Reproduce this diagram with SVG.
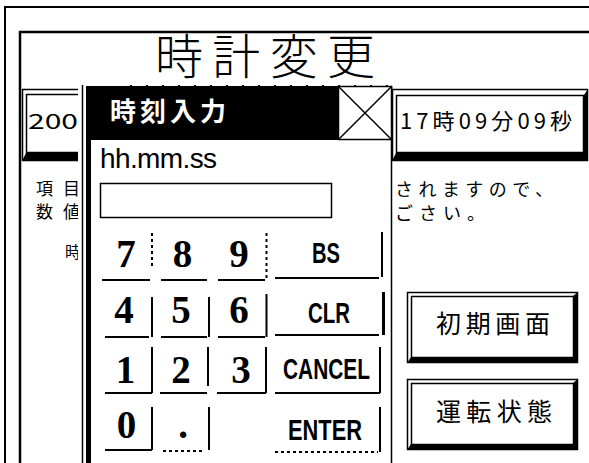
<svg xmlns="http://www.w3.org/2000/svg" width="589" height="463" viewBox="0 0 589 463">
<style>
.jp{font-family:"Noto Sans CJK JP","Noto Sans CJK SC",sans-serif;fill:#000;}
.dg{font-family:"Liberation Serif","Times New Roman",serif;font-weight:bold;font-size:39px;text-anchor:middle;fill:#000;}
.kl{font-family:"Liberation Sans",Arial,sans-serif;font-size:29px;font-weight:bold;fill:#000;}
.kb{stroke:#000;stroke-width:2;fill:none;}
.dsh{stroke-dasharray:3 3;}
.box{fill:none;stroke:#000;stroke-width:1.5;}
.shadow{fill:#000;}
</style>
<rect width="589" height="463" fill="#fff"/>
<g id="frame">
  <path d="M5,463 V7 H589" fill="none" stroke="#000" stroke-width="2"/>
  <path d="M20,463 V32 H589" fill="none" stroke="#000" stroke-width="2.5"/>
</g>
<g id="title">
  <text class="jp" x="155" y="74" font-size="48" font-weight="300" textLength="220" lengthAdjust="spacing">時計変更</text>
</g>
<g id="date-box">
  <rect class="box" x="22.5" y="89.5" width="300" height="71"/>
  <rect class="box" x="26.5" y="94.5" width="292" height="58"/>
  <polygon class="shadow" points="322,89 322,161 22,161 26,153 318,153 318,94"/>
  <text class="jp" x="28" y="129" font-size="21" textLength="50" lengthAdjust="spacingAndGlyphs">200</text>
</g>
<g id="time-box">
  <rect class="box" x="392.5" y="89.5" width="195" height="71"/>
  <rect class="box" x="396.5" y="95.5" width="187" height="57"/>
  <polygon class="shadow" points="588,89 588,161 392,161 396,153 584,153 584,95"/>
  <text class="jp" x="400" y="129" font-size="22" textLength="172" lengthAdjust="spacing">17時09分09秒</text>
</g>
<g id="note">
  <text class="jp" x="36" y="195" font-size="17" textLength="44" lengthAdjust="spacing">項目</text>
  <text class="jp" x="36" y="218" font-size="17" textLength="44" lengthAdjust="spacing">数値</text>
  <text class="jp" x="65" y="258" font-size="16">時</text>
  <text class="jp" x="395" y="196" font-size="18" textLength="158" lengthAdjust="spacing">されますので、</text>
  <text class="jp" x="395" y="220" font-size="18" textLength="90" lengthAdjust="spacing">ごさい。</text>
</g>
<g id="btn-initial">
  <rect class="box" x="407.5" y="292.5" width="170" height="70"/>
  <rect class="box" x="411.5" y="296.5" width="162" height="61"/>
  <polygon class="shadow" points="578,292 578,363 407,363 411,357 573,357 573,296"/>
  <text class="jp" x="436" y="333" font-size="25" textLength="114" lengthAdjust="spacing">初期画面</text>
</g>
<g id="btn-status">
  <rect class="box" x="407.5" y="379.5" width="170" height="70"/>
  <rect class="box" x="411.5" y="383.5" width="162" height="61"/>
  <polygon class="shadow" points="578,379 578,450 407,450 411,444 573,444 573,383"/>
  <text class="jp" x="436" y="421" font-size="25" textLength="116" lengthAdjust="spacing">運転状態</text>
</g>
<g id="dialog">
  <rect x="78" y="86" width="314" height="377" fill="#fff"/>
  <line x1="82.5" y1="85" x2="82.5" y2="463" stroke="#000" stroke-width="1.5"/>
  <rect x="86" y="86" width="5" height="377" fill="#000"/>
  <line x1="391.5" y1="86" x2="391.5" y2="463" stroke="#000" stroke-width="1.5"/>
  <line x1="130" y1="85.5" x2="390" y2="85.5" stroke="#000" stroke-width="1" stroke-dasharray="2 14"/>
  <rect x="86" y="86" width="252" height="54" fill="#000"/>
  <text x="110" y="121" font-size="26" font-weight="bold" fill="#fff" font-family="'Noto Sans CJK JP','Noto Sans CJK SC',sans-serif" textLength="116" lengthAdjust="spacing">時刻入力</text>
  <g id="close-box">
    <rect x="338.5" y="86.5" width="53" height="53" fill="#fff" stroke="#000" stroke-width="1.5"/>
    <path d="M339,87 L391,139 M391,87 L339,139" stroke="#000" stroke-width="1.5"/>
  </g>
  <text x="100" y="168" font-family="'Liberation Sans',Arial,sans-serif" font-size="28" fill="#000" textLength="117" lengthAdjust="spacing">hh.mm.ss</text>
  <rect id="input" x="100.5" y="183.5" width="231" height="34" fill="#fff" stroke="#000" stroke-width="1.5"/>
</g>
<g id="keys">
  <g id="key-7"><path class="kb" d="M102,280 H150"/><path class="kb dsh" d="M152,233 V266"/><text class="dg" x="126" y="267">7</text></g>
  <g id="key-8"><path class="kb" d="M161,280 H207"/><text class="dg" x="182.5" y="267">8</text></g>
  <g id="key-9"><path class="kb" d="M218,280 H265"/><path class="kb dsh" d="M266.5,233 V278"/><text class="dg" x="239" y="267">9</text></g>
  <g id="key-bs"><path class="kb" d="M275,278 H379 M382,232 V277"/><text class="kl" x="312" y="263" textLength="28" lengthAdjust="spacingAndGlyphs">BS</text></g>
  <g id="key-4"><path class="kb" d="M105,337 H149 M152,297 V337"/><text class="dg" x="124" y="323">4</text></g>
  <g id="key-5"><path class="kb" d="M161,337 H207 M209,297 V337"/><text class="dg" x="181" y="323">5</text></g>
  <g id="key-6"><path class="kb" d="M218,337 H265 M266.5,294 V337"/><text class="dg" x="239" y="323">6</text></g>
  <g id="key-clr"><path class="kb" d="M275,335 H379"/><path d="M383.5,292 V335" stroke="#000" stroke-width="3"/><text class="kl" x="308" y="323" textLength="42" lengthAdjust="spacingAndGlyphs">CLR</text></g>
  <g id="key-1"><path class="kb" d="M105,393 H152 M152,347 V393"/><text class="dg" x="125.5" y="383">1</text></g>
  <g id="key-2"><path class="kb" d="M160,393 H207 M208,347 V386"/><text class="dg" x="181" y="383">2</text></g>
  <g id="key-3"><path class="kb" d="M217,393 H266 M266,347 V393"/><text class="dg" x="241" y="383">3</text></g>
  <g id="key-cancel"><path class="kb" d="M275,393 H380 M380,347 V393"/><text class="kl" x="283" y="379" textLength="87" lengthAdjust="spacingAndGlyphs">CANCEL</text></g>
  <g id="key-0"><path class="kb" d="M105,450 H152 M152,407 V450"/><text class="dg" x="126.5" y="438">0</text></g>
  <g id="key-dot"><path class="kb dsh" d="M163,451 H202"/><path class="kb" d="M209,407 V450"/><text class="dg" x="183" y="438">.</text></g>
  <g id="key-enter"><path class="kb dsh" d="M275,452 H378"/><path class="kb" d="M380,407 V452"/><text class="kl" x="288" y="440" textLength="74" lengthAdjust="spacingAndGlyphs">ENTER</text></g>
</g>
</svg>
